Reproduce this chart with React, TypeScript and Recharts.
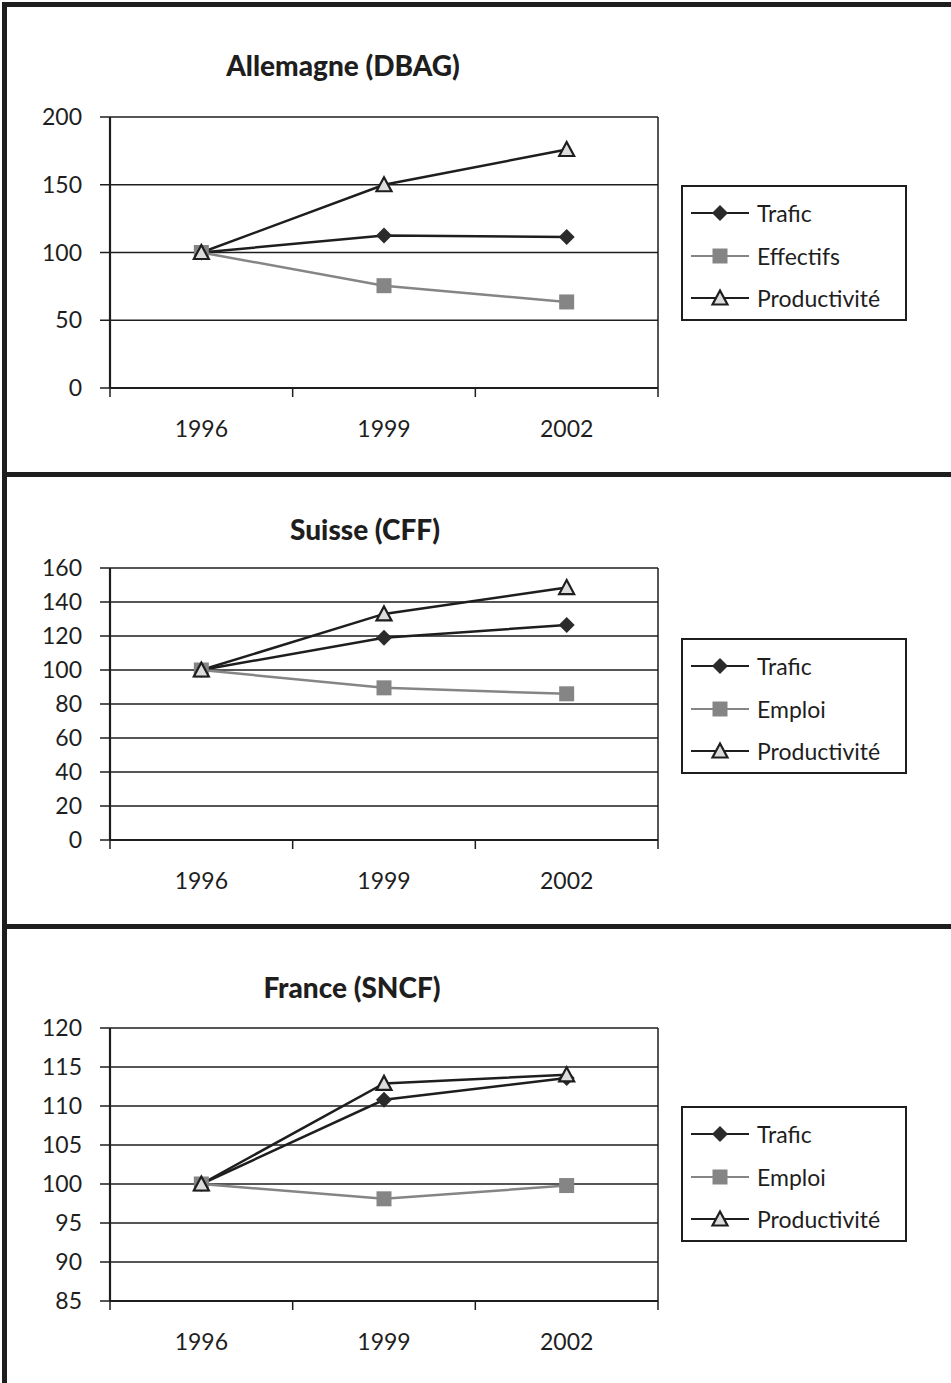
import React from 'react';
import { LineChart, Line, XAxis, YAxis, CartesianGrid } from 'recharts';

const years = ['1996', '1999', '2002'];

// Allemagne (DBAG)
const deTrafic = [100, 112.5, 111.5];
const deEffectifs = [100, 75.5, 63.5];
const deProductivite = [100, 150, 176];
const deTicks = [0, 50, 100, 150, 200];

// Suisse (CFF)
const chTrafic = [100, 119, 126.5];
const chEmploi = [100, 89.5, 86];
const chProductivite = [100, 133, 148.5];
const chTicks = [0, 20, 40, 60, 80, 100, 120, 140, 160];

// France (SNCF)
const frTrafic = [100, 110.8, 113.6];
const frEmploi = [100, 98.1, 99.8];
const frProductivite = [100, 112.9, 114];
const frTicks = [85, 90, 95, 100, 105, 110, 115, 120];

const xTicks = [0, 0.5, 1, 1.5, 2, 2.5, 3];

const INK = '#1e1e1e';
const GREY = '#858585';
const FONT = 'Lato, "Open Sans", sans-serif';

type Panel = {
  title: string;
  titleX: number;
  titleBaseline: number;
  top: number;
  height: number;
  plotTop: number;
  plotBottom: number;
  legendTop: number;
  names: string[];
  series: number[][];
  ticks: number[];
};

const panels: Panel[] = [
  {
    title: 'Allemagne (DBAG)', titleX: 343, titleBaseline: 76,
    top: 0, height: 470, plotTop: 117, plotBottom: 388, legendTop: 185,
    names: ['Trafic', 'Effectifs', 'Productivité'],
    series: [deTrafic, deEffectifs, deProductivite], ticks: deTicks,
  },
  {
    title: 'Suisse (CFF)', titleX: 365, titleBaseline: 540,
    top: 477, height: 447, plotTop: 568, plotBottom: 840, legendTop: 638,
    names: ['Trafic', 'Emploi', 'Productivité'],
    series: [chTrafic, chEmploi, chProductivite], ticks: chTicks,
  },
  {
    title: 'France (SNCF)', titleX: 352, titleBaseline: 998,
    top: 929, height: 454, plotTop: 1028, plotBottom: 1301, legendTop: 1106,
    names: ['Trafic', 'Emploi', 'Productivité'],
    series: [frTrafic, frEmploi, frProductivite], ticks: frTicks,
  },
];

const Diamond = ({ cx, cy }: { cx: number; cy: number }) => (
  <path d={`M${cx},${cy - 8}L${cx + 8},${cy}L${cx},${cy + 8}L${cx - 8},${cy}Z`} fill="#2b2b2b" />
);
const Square = ({ cx, cy }: { cx: number; cy: number }) => (
  <rect x={cx - 7.5} y={cy - 7.5} width={15} height={15} fill={GREY} />
);
const Triangle = ({ cx, cy }: { cx: number; cy: number }) => (
  <path
    d={`M${cx},${cy - 7.5}L${cx + 7.5},${cy + 6.5}L${cx - 7.5},${cy + 6.5}Z`}
    fill="#dcdcdc"
    stroke={INK}
    strokeWidth={2.2}
    strokeLinejoin="miter"
  />
);

const markers = [Diamond, Square, Triangle];
const lineColors = [INK, GREY, INK];

const XTick = (props: any) => {
  const { x, y, payload } = props;
  const v = payload.value as number;
  if (Number.isInteger(v)) {
    return <line x1={x} y1={y} x2={x} y2={y + 9} stroke={INK} strokeWidth={1.5} />;
  }
  return (
    <text x={x} y={y + 49} textAnchor="middle" fill={INK} fontSize={23} fontFamily={FONT}>
      {years[Math.floor(v)]}
    </text>
  );
};

const ChartPanel = ({ p }: { p: Panel }) => {
  const data = years.map((yr, i) => ({
    x: i + 0.5,
    year: yr,
    s0: p.series[0][i],
    s1: p.series[1][i],
    s2: p.series[2][i],
  }));
  const xAxisH = 60;
  const mTop = p.plotTop - p.top;
  const mBottom = p.height - (p.plotBottom - p.top) - xAxisH;
  const yMin = p.ticks[0];
  const yMax = p.ticks[p.ticks.length - 1];
  return (
    <div style={{ position: 'absolute', left: 0, top: p.top, width: 951, height: p.height }}>
      <LineChart
        width={951}
        height={p.height}
        data={data}
        margin={{ top: mTop, right: 293, bottom: mBottom, left: 30 }}
      >
        <CartesianGrid
          stroke={INK}
          strokeWidth={1.5}
          horizontal={true}
          vertical={true}
          verticalCoordinatesGenerator={({ offset }: any) => [offset.left + offset.width]}
        />
        <XAxis
          dataKey="x"
          type="number"
          domain={[0, 3]}
          ticks={xTicks}
          interval={0}
          height={xAxisH}
          tickLine={false}
          tickSize={0}
          tickMargin={0}
          axisLine={{ stroke: INK, strokeWidth: 2.2 }}
          tick={<XTick />}
        />
        <YAxis
          type="number"
          domain={[yMin, yMax]}
          ticks={p.ticks}
          interval={0}
          width={80}
          tickSize={10}
          tickMargin={18}
          tickLine={{ stroke: INK, strokeWidth: 1.5 }}
          axisLine={{ stroke: INK, strokeWidth: 2.2 }}
          tick={{ fill: INK, fontSize: 23, fontFamily: FONT }}
        />
        {[0, 1, 2].map((k) => {
          const M = markers[k];
          return (
            <Line
              key={k}
              dataKey={`s${k}`}
              name={p.names[k]}
              stroke={lineColors[k]}
              strokeWidth={2.5}
              isAnimationActive={false}
              dot={(d: any) => <M key={`m${k}-${d.index}`} cx={d.cx} cy={d.cy} />}
              activeDot={false}
            />
          );
        })}
      </LineChart>
      <div
        style={{
          position: 'absolute',
          left: 681,
          top: p.legendTop - p.top,
          width: 226,
          height: 136,
          boxSizing: 'border-box',
          border: `2px solid ${INK}`,
          background: '#fff',
        }}
      >
        {p.names.map((n, k) => {
          const M = markers[k];
          const centers = [28, 71, 113];
          return (
            <div key={n} style={{ position: 'absolute', left: 0, top: centers[k] - 2 - 15, height: 30, width: 224 }}>
              <svg width={60} height={30} style={{ position: 'absolute', left: 8, top: 0 }}>
                <line x1={0} y1={15} x2={58} y2={15} stroke={lineColors[k]} strokeWidth={2} />
                <M cx={29} cy={15} />
              </svg>
              <div
                style={{
                  position: 'absolute',
                  left: 74,
                  top: 0,
                  lineHeight: '30px',
                  fontSize: 23,
                  fontFamily: FONT,
                  color: INK,
                  whiteSpace: 'nowrap',
                }}
              >
                {n}
              </div>
            </div>
          );
        })}
      </div>
    </div>
  );
};

export default function App() {
  return (
    <div style={{ position: 'absolute', left: 0, top: 0, width: 951, height: 1383, background: '#fff', overflow: 'hidden' }}>
      {panels.map((p) => (
        <ChartPanel key={p.title} p={p} />
      ))}
      <svg width={951} height={1383} style={{ position: 'absolute', left: 0, top: 0, pointerEvents: 'none' }}>
        {panels.map((p) => (
          <text
            key={p.title}
            x={p.titleX}
            y={p.titleBaseline}
            textAnchor="middle"
            fontSize={28}
            fontWeight={900}
            fontFamily={FONT}
            fill={INK}
          >
            {p.title}
          </text>
        ))}
      </svg>
      <div style={{ position: 'absolute', left: 2, top: 2, width: 949, height: 5, background: INK }} />
      <div style={{ position: 'absolute', left: 2, top: 2, width: 5, height: 1381, background: INK }} />
      <div style={{ position: 'absolute', left: 2, top: 472, width: 949, height: 5, background: INK }} />
      <div style={{ position: 'absolute', left: 2, top: 924, width: 949, height: 5, background: INK }} />
    </div>
  );
}
